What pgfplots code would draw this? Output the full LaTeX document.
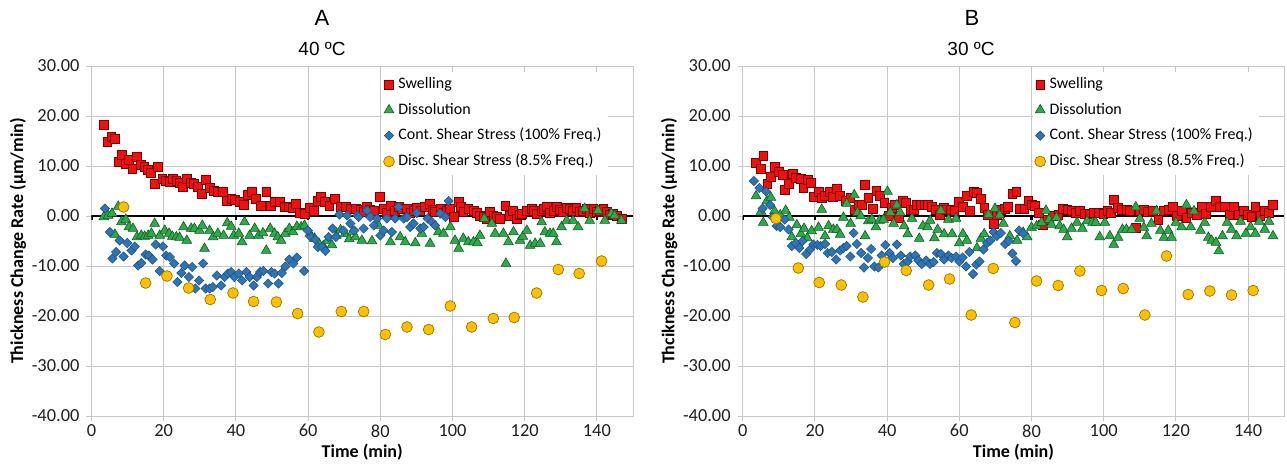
\documentclass[border=0pt]{standalone}
\usepackage{fontspec}
\setmainfont{Carlito}
\newfontfamily\arial{Liberation Sans}
\usepackage{pgfplots}
\pgfplotsset{compat=1.18}

\definecolor{gridgray}{HTML}{C8C8C8}
\definecolor{swfill}{HTML}{F01010}
\definecolor{swdraw}{HTML}{7A0000}
\definecolor{dsfill}{HTML}{2EAA4A}
\definecolor{dsdraw}{HTML}{145A24}
\definecolor{csfill}{HTML}{2E75B6}
\definecolor{csdraw}{HTML}{1F4E79}
\definecolor{ssfill}{HTML}{FFC000}
\definecolor{ssdraw}{HTML}{9A7400}

\pgfplotsset{
  panel/.style={
    scale only axis, width=270.75pt, height=175pt,
    anchor=south west,
    xmin=0, xmax=150, ymin=-40, ymax=30,
    xtick={0,20,...,140}, ytick={-40,-30,...,30},
    grid=major,
    grid style={line width=0.5pt, gridgray},
    axis line style={line width=0.5pt, gridgray},
    tick style={line width=0.5pt, gridgray},
    tick align=outside, major tick length=2.5pt,
    xtick pos=bottom, ytick pos=left,
    /pgf/number format/assume math mode=true,
    yticklabel style={/pgf/number format/.cd, fixed, fixed zerofill, precision=2},
    xticklabel style={yshift=1.8pt, /pgf/number format/.cd, fixed},
    tick label style={font=\fontsize{9.2}{10}\selectfont, text=black!88},
    xlabel={Time (min)},
    xlabel style={font=\fontsize{9}{10}\selectfont\bfseries, at={(axis description cs:0.5,-0.102)}, anchor=center},
    ylabel style={font=\fontsize{9}{10}\selectfont\bfseries, at={(axis description cs:-0.1357,0.5)}, anchor=center},
    legend style={draw=none, fill=white, font=\fontsize{8}{9}\selectfont,
      row sep=1.6pt, inner sep=1pt, legend cell align=left},
    legend cell align=left,
  },
  sw/.style={only marks, mark=square*, mark size=2.2pt,
    mark options={fill=swfill, draw=swdraw, line width=0.3pt}},
  ds/.style={only marks, mark=triangle*, mark size=2.8pt,
    mark options={fill=dsfill, draw=dsdraw, line width=0.3pt}},
  cs/.style={only marks, mark=square*, mark size=1.65pt,
    mark options={rotate=45, fill=csfill, draw=csdraw, line width=0.25pt}},
  ss/.style={only marks, mark=*, mark size=2.7pt,
    mark options={fill=ssfill, draw=ssdraw, line width=0.35pt}},
}

% Black horizontal axis line at zero with short downward ticks
\newcommand{\zeroaxis}{%
  \draw[black, line width=1.1pt] (axis cs:0,0) -- (axis cs:150,0);
  \pgfplotsinvokeforeach{0,20,40,60,80,100,120,140}{%
    \draw[black, line width=1.1pt] (axis cs:##1,0) -- ++(0pt,-2.2pt);}%
}

\begin{document}
\begin{tikzpicture}
\path[use as bounding box] (0,0) rectangle (643.5pt,234pt);

% Panel A: 40 degC
\begin{axis}[panel, at={(45.75pt,26pt)},
  ylabel={Thickness Change Rate (µm/min)},
  legend style={at={(0.535,0.985)}, anchor=north west}]
\zeroaxis
\addplot[sw] table {
3.5 18.3
4.4 14.9
5.5 15.9
6.5 15.5
7.6 10.9
8.5 12.3
9.5 10.5
10.4 11.3
11.3 9.5
12.6 11.9
13.6 10.3
14.6 9.9
15.5 9.3
16.4 8.6
17.5 6.5
18.4 9.8
19.6 7.5
20.5 7.0
21.7 6.8
22.6 7.5
23.5 7.1
24.4 6.6
25.3 5.9
26.4 7.5
27.5 6.6
28.4 6.5
29.5 5.9
30.6 4.5
31.6 7.3
32.7 5.7
33.9 5.1
35.0 4.8
36.4 4.8
37.5 3.1
38.7 3.5
39.8 3.3
41.0 2.8
42.2 2.3
43.3 4.3
44.5 4.8
45.6 3.5
46.8 2.1
48.4 4.9
49.6 2.1
50.7 2.8
52.1 2.8
53.4 1.8
54.6 1.8
55.8 1.7
56.7 2.5
57.6 0.6
59.0 0.5
60.4 1.7
61.6 1.1
62.7 3.0
63.6 3.8
64.7 2.8
65.9 2.1
67.5 3.5
69.1 1.8
70.5 1.8
71.9 1.5
73.3 1.5
74.5 1.3
75.4 0.9
76.3 1.8
77.2 1.3
78.2 1.1
79.8 3.8
80.9 1.5
81.8 0.6
82.8 2.1
84.1 1.1
85.1 1.9
86.0 1.5
87.4 1.5
88.3 0.7
89.2 1.1
90.1 1.6
91.1 1.1
92.4 1.8
93.8 2.5
94.5 1.2
95.2 0.8
96.6 1.5
97.5 0.6
98.4 1.1
99.3 1.4
100.3 -0.2
101.7 2.8
102.4 1.9
103.0 0.8
104.4 1.5
105.8 1.1
106.7 0.6
107.6 0.1
108.6 -0.1
109.5 -0.5
110.4 0.8
111.3 0.1
112.2 -0.1
113.2 -0.5
114.6 2.1
115.9 0.1
116.8 1.0
117.8 -0.5
118.5 0.2
119.2 0.5
120.6 1.1
121.9 1.5
122.6 1.0
123.3 0.5
124.7 1.1
125.4 1.5
126.1 1.8
127.0 0.6
127.9 1.1
128.8 1.8
129.7 1.3
130.6 0.9
131.6 1.7
132.5 1.5
133.4 1.1
134.3 1.7
135.3 0.8
136.2 1.0
137.1 1.5
138.0 0.7
139.0 1.5
139.9 0.9
140.8 1.1
141.8 1.5
142.7 0.8
143.6 0.3
144.5 0.5
145.6 0.1
146.8 -0.5
};
\addlegendentry{Swelling}
\addplot[ds] table {
3.4 -0.2
4.6 0.1
5.7 0.5
6.5 -3.7
7.4 1.9
8.3 -1.2
9.5 -0.7
10.4 -2.2
11.5 -2.5
12.6 -4.2
13.8 -3.9
14.7 -4.1
15.7 -3.9
16.6 -3.5
17.5 -1.5
18.9 -3.9
20.3 -2.9
21.5 -3.5
22.4 -4.1
23.5 -4.2
24.4 -4.3
25.5 -2.2
26.4 -4.9
27.6 -2.5
28.5 -2.5
29.9 -2.9
30.7 -1.9
31.3 -6.5
32.7 -2.9
33.7 -4.2
35.0 -3.5
36.6 -3.9
37.6 -1.4
38.7 -2.1
39.4 -3.9
40.8 -3.5
41.7 -5.2
42.4 -1.2
43.8 -3.9
45.2 -2.5
46.3 -3.9
47.5 -3.4
48.4 -6.9
49.5 -2.5
50.7 -3.5
51.6 -4.2
52.5 -4.9
53.7 -3.5
54.8 -2.5
55.8 -3.2
56.9 -2.1
58.1 -2.2
59.0 -1.9
60.5 -3.5
61.8 -4.5
63.0 -5.5
64.2 -6.0
65.4 -4.9
66.6 -5.8
67.8 -3.9
69.0 -2.8
70.2 -3.6
71.4 -4.6
72.3 -3.2
73.1 -4.2
74.9 -4.9
77.7 -5.0
79.5 -1.9
82.8 -5.2
85.5 -4.2
86.9 -5.2
89.7 -5.4
91.5 -3.5
93.8 -5.5
96.1 -3.2
97.5 -3.5
99.4 -2.2
100.7 -4.9
101.7 -6.5
103.0 -4.5
104.4 -5.2
105.8 -5.2
106.9 -5.4
107.6 -3.9
108.8 -0.5
110.9 -1.5
111.8 -3.5
114.1 -3.5
114.8 -9.5
115.5 -5.2
116.9 -3.2
118.7 -4.9
119.5 -4.1
120.6 -2.9
121.5 -5.9
122.9 -5.5
124.3 -5.5
124.7 -1.2
125.6 -3.2
127.0 -3.5
127.9 -3.5
128.8 -5.2
130.2 -2.2
131.6 -0.9
133.4 -0.9
134.8 -2.2
136.6 1.5
138.0 -0.9
140.3 1.1
142.2 -0.9
144.0 0.5
144.9 0.1
146.8 -0.9
};
\addlegendentry{Dissolution}
\addplot[cs] table {
3.7 1.5
5.1 -3.2
5.8 -8.5
6.8 -7.2
7.8 -4.9
8.9 -8.1
9.9 -5.4
11.1 -6.9
12.0 -6.1
12.9 -9.9
13.8 -9.4
15.0 -7.7
15.9 -7.9
16.9 -8.7
17.8 -5.7
18.9 -11.0
19.8 -6.1
20.7 -7.9
21.7 -8.2
22.9 -9.5
23.8 -13.2
24.9 -11.4
25.8 -9.9
27.0 -12.2
27.9 -10.2
28.8 -14.5
29.8 -12.9
30.9 -9.5
31.6 -14.5
32.7 -14.5
33.6 -14.2
34.7 -11.9
35.9 -13.9
36.9 -12.2
37.8 -11.5
38.7 -11.2
39.6 -12.2
40.8 -11.5
41.7 -12.9
42.9 -11.2
43.8 -12.2
44.9 -13.9
45.8 -12.2
46.7 -11.2
47.6 -11.0
48.9 -13.5
49.8 -11.2
50.7 -11.5
51.8 -13.5
52.7 -11.4
53.7 -10.1
54.8 -8.7
55.9 -9.5
56.9 -8.3
58.9 -11.0
59.9 -2.9
60.8 -4.2
62.0 -4.7
62.7 -6.2
63.9 -6.2
64.8 -7.0
65.7 -4.2
66.8 -2.5
67.7 -4.2
68.7 0.3
69.8 -2.9
70.8 0.1
71.7 -1.5
72.8 -2.9
73.7 0.1
74.0 -0.2
75.4 -2.5
76.3 1.1
77.2 -0.2
78.2 -1.9
79.1 -0.5
80.0 -3.9
80.9 -2.9
81.8 -0.5
83.2 -3.2
84.1 -0.5
85.1 1.8
86.5 -0.5
87.4 -0.2
88.3 -2.2
89.2 -1.5
90.1 0.6
91.1 -2.5
92.0 -2.2
93.1 -0.5
94.3 -1.2
95.2 -1.9
96.6 0.5
98.0 -0.2
98.9 3.0
};
\addlegendentry{Cont.\ Shear Stress (100\% Freq.)}
\addplot[ss] table {
8.9 1.8
15.0 -13.4
20.9 -12.0
26.9 -14.4
32.9 -16.7
39.2 -15.4
44.9 -17.1
51.2 -17.2
57.1 -19.5
63.0 -23.2
69.2 -19.1
75.4 -19.1
81.4 -23.7
87.4 -22.2
93.4 -22.7
99.4 -18.0
105.3 -22.2
111.3 -20.5
117.1 -20.3
123.3 -15.4
129.3 -10.7
135.1 -11.5
141.3 -9.0
};
\addlegendentry{Disc.\ Shear Stress (8.5\% Freq.)}
\end{axis}

% Panel B: 30 degC
\begin{axis}[panel, at={(371.35pt,26pt)},
  ylabel={Thcikness Change Rate (µm/min)},
  legend style={at={(0.535,0.985)}, anchor=north west}]
\zeroaxis
\addplot[sw] table {
3.7 10.7
5.0 9.4
5.7 12.1
6.8 6.5
7.8 7.9
8.8 9.9
10.1 8.9
11.0 8.3
11.7 5.2
12.8 6.4
13.9 8.5
14.8 7.6
16.0 7.4
16.8 5.6
18.0 7.2
18.9 6.7
19.8 3.8
21.0 4.9
21.9 3.6
22.8 4.0
24.0 4.9
24.9 3.8
26.1 5.4
27.0 4.0
28.4 3.0
29.8 3.7
31.1 1.3
32.1 2.3
33.0 2.2
33.9 6.2
34.8 3.6
36.0 1.5
37.0 5.0
37.9 4.0
39.2 2.7
40.4 0.0
41.3 1.7
42.2 2.2
43.2 -0.3
44.3 3.0
45.2 2.7
46.4 1.3
47.3 1.3
48.2 2.3
49.2 2.2
50.3 2.3
51.3 2.2
52.4 1.8
53.5 1.3
54.7 0.3
55.6 1.7
56.6 1.3
57.7 1.3
58.6 1.1
59.8 2.9
60.9 1.8
62.1 4.0
63.0 1.1
64.0 4.9
64.9 4.7
66.0 3.4
66.9 1.7
67.8 0.3
69.5 -1.5
70.4 0.3
71.5 1.2
72.6 1.5
73.5 1.8
74.7 4.5
75.8 4.9
76.8 1.5
78.0 1.5
79.1 3.0
80.0 2.3
80.9 2.0
82.0 0.7
83.2 -1.7
84.6 -0.7
86.0 0.0
87.4 0.3
88.6 1.5
89.9 1.3
91.1 1.1
92.3 0.7
93.4 1.0
94.8 0.5
96.0 0.5
97.1 0.7
98.5 0.7
99.9 0.5
101.0 1.0
101.9 0.7
102.8 3.3
103.8 1.7
104.9 1.3
106.3 1.3
107.2 1.0
108.9 -2.3
110.0 1.0
111.1 1.3
112.3 0.9
113.7 1.0
115.1 -0.7
116.5 1.1
117.9 1.3
119.1 1.8
120.2 0.0
121.6 1.0
122.9 -0.3
124.3 0.7
125.7 0.3
127.1 1.8
128.3 0.5
129.6 1.8
131.0 3.0
132.2 1.8
133.6 1.8
134.8 0.3
136.0 1.8
137.5 0.3
138.8 1.1
140.0 0.3
140.9 -0.2
142.0 1.8
143.4 0.0
144.6 1.0
145.8 0.7
146.9 2.2
};
\addlegendentry{Swelling}
\addplot[ds] table {
3.7 4.0
5.1 0.9
5.7 -1.3
6.7 3.0
7.8 3.7
8.8 1.0
10.4 0.2
11.9 1.1
12.9 -0.3
13.6 -4.2
15.0 -1.8
16.1 -3.6
17.0 -2.5
17.9 -4.4
19.1 -3.0
21.0 -2.3
21.9 1.3
22.8 -4.0
23.8 -2.0
25.1 -2.7
26.1 -2.7
27.0 -3.7
27.9 -0.3
28.8 2.5
29.9 -1.5
30.9 4.2
31.8 0.7
32.7 0.0
33.9 -4.0
34.8 -1.0
35.8 -0.7
36.9 -2.2
37.9 -0.9
39.0 -0.7
40.1 4.9
40.9 0.7
41.8 -1.5
42.7 2.2
43.6 0.7
44.7 -2.0
45.7 -3.6
46.9 -0.5
48.9 -4.5
49.9 -2.0
51.2 -2.2
51.9 -0.9
53.1 -4.4
54.0 -2.7
54.9 1.1
55.8 -3.6
57.0 -0.7
58.0 -3.6
59.1 -0.5
60.0 -5.4
61.0 -3.6
62.1 -4.9
64.9 -6.4
66.0 -4.5
66.9 -3.6
68.1 0.3
69.9 1.5
71.2 0.2
72.2 -1.5
74.0 -4.0
76.0 -4.9
77.7 -3.3
78.8 -4.2
80.0 -2.3
81.4 -2.0
82.8 -1.3
84.0 1.1
84.9 -0.7
85.5 -1.7
86.9 -0.3
87.8 -2.0
88.9 -2.7
89.9 -4.2
91.1 -2.5
92.6 -1.3
94.1 -2.5
95.4 -1.0
96.9 -1.3
97.8 -1.3
98.9 -4.2
100.3 -1.3
101.7 -4.0
102.8 -5.7
104.0 -4.3
105.2 -2.7
106.3 -2.7
107.7 -2.7
108.9 1.8
110.0 -0.5
111.1 -2.3
111.9 -4.0
113.2 -1.5
114.6 1.0
115.7 -2.9
116.7 -4.3
117.9 -2.9
118.8 -4.3
120.0 -1.3
121.6 -2.2
122.9 2.2
124.1 -2.2
125.0 1.0
126.8 -2.9
128.0 -1.3
129.0 -4.3
129.9 -4.9
131.1 -5.3
131.9 -7.0
132.9 -4.0
134.2 -1.3
135.4 -2.7
136.8 -4.0
137.9 -1.1
139.4 -3.5
140.7 -2.2
142.0 -3.5
143.1 -1.1
144.6 -2.7
145.8 -1.1
146.9 -4.0
};
\addlegendentry{Dissolution}
\addplot[cs] table {
3.1 7.0
4.6 5.6
5.5 1.5
6.5 4.9
7.6 2.2
8.3 -0.2
9.4 -2.0
10.4 -2.2
11.6 -0.7
12.7 -2.7
13.6 -6.0
14.7 -5.4
15.7 -6.4
16.6 -5.0
17.6 -7.6
18.7 -6.7
19.6 -5.7
20.7 -5.8
21.6 -6.0
22.8 -5.6
23.5 -7.4
24.7 -7.2
25.9 -8.7
27.0 -6.9
27.9 -6.4
28.8 -6.0
29.8 -8.1
30.7 -3.4
31.6 -5.6
32.8 -7.4
33.6 -10.3
34.7 -8.4
35.6 -6.6
36.5 -10.1
37.6 -10.3
38.5 -7.9
39.5 -5.8
40.7 -7.4
41.6 -8.4
42.7 -5.7
43.8 -7.9
44.6 -9.6
45.7 -9.1
46.4 -8.1
47.8 -7.9
48.7 -8.9
49.6 -9.6
50.8 -8.9
51.9 -9.6
52.9 -9.2
53.8 -7.4
54.9 -7.6
55.8 -8.7
57.0 -7.9
57.9 -8.4
59.1 -8.1
60.0 -9.1
60.9 -8.3
61.9 -10.1
62.8 -7.2
63.8 -11.6
64.7 -9.7
65.6 -9.1
66.7 -6.7
67.7 -5.4
68.6 -4.9
69.5 -3.2
70.4 -4.0
71.5 -3.4
72.7 -5.6
73.7 -5.0
74.7 -7.5
75.7 -9.0
76.6 -2.9
77.7 -3.5
};
\addlegendentry{Cont.\ Shear Stress (100\% Freq.)}
\addplot[ss] table {
9.2 -0.5
15.4 -10.4
21.2 -13.3
27.3 -13.8
33.3 -16.2
39.3 -9.2
45.3 -10.9
51.5 -13.8
57.3 -12.6
63.3 -19.8
69.4 -10.5
75.4 -21.3
81.4 -13.0
87.4 -13.9
93.4 -11.0
99.4 -14.9
105.4 -14.5
111.4 -19.8
117.4 -8.0
123.4 -15.7
129.4 -15.0
135.4 -15.8
141.4 -14.9
};
\addlegendentry{Disc.\ Shear Stress (8.5\% Freq.)}
\end{axis}

% Panel titles
\node[font=\arial\fontsize{11}{12}\selectfont] at (161pt,225pt) {A};
\node[font=\arial\fontsize{9.5}{10}\selectfont] at (161pt,209.5pt) {40 ºC};
\node[font=\arial\fontsize{11}{12}\selectfont] at (486pt,225pt) {B};
\node[font=\arial\fontsize{9.5}{10}\selectfont] at (485.5pt,209.5pt) {30 ºC};
\end{tikzpicture}
\end{document}
